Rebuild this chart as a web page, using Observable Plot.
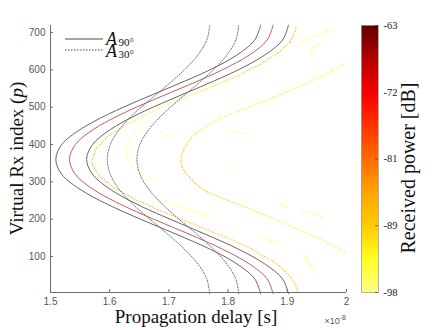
<!DOCTYPE html>
<html>
<head>
<meta charset="utf-8">
<script src="https://cdn.jsdelivr.net/npm/d3@7"></script>
<script src="https://cdn.jsdelivr.net/npm/@observablehq/plot@0.6"></script>
<style>
  body { margin: 0; background: #fff; }
  #chart { position: relative; width: 440px; height: 330px; }
  #chart svg { position: absolute; top: 0; overflow: visible; }
</style>
</head>
<body>
<div id="chart"></div>
<script>
// Axis ticks (delay in units of 1e-8 s, virtual receiver index p)
const xTicks = [1.5, 1.6, 1.7, 1.8, 1.9, 2];
const xTickLabels = ["1.5", "1.6", "1.7", "1.8", "1.9", "2"];
const yTicks = [100, 200, 300, 400, 500, 600, 700];

// Colour bar ticks (dB) and their printed labels
const cbTicks = [-98, -89.25, -80.5, -71.75, -63];
const cbTickLabels = ["-98", "-89", "-81", "-72", "-63"];

// Colormap stops (dB) and colours, light yellow (weak) to dark red (strong)
const cmapStops  = [-98, -93.8, -89, -84.6, -81, -76, -72, -67.6, -63];
const cmapColors = ["#ffff8a", "#ffff22", "#ffc800", "#ffa000", "#ff7000", "#ff3000", "#f80000", "#b80000", "#5e0000"];

// Predicted delay curves sampled along the virtual array
const pGrid = [0, 40, 80, 120, 160, 200, 240, 280, 320, 360, 400, 440, 480, 520, 560, 600, 640, 680, 720];
const a90Outer = [1.855, 1.845, 1.815, 1.769, 1.712, 1.652, 1.596, 1.550, 1.519, 1.509, 1.519, 1.550, 1.596, 1.652, 1.712, 1.769, 1.815, 1.845, 1.855];
const a90Mid   = [1.876, 1.866, 1.836, 1.790, 1.734, 1.674, 1.618, 1.572, 1.542, 1.532, 1.542, 1.572, 1.618, 1.674, 1.734, 1.790, 1.836, 1.866, 1.876];
const a90Inner = [1.902, 1.892, 1.862, 1.817, 1.761, 1.702, 1.646, 1.601, 1.571, 1.561, 1.571, 1.601, 1.646, 1.702, 1.761, 1.817, 1.862, 1.892, 1.902];
const a30Left  = [1.769, 1.764, 1.749, 1.726, 1.698, 1.668, 1.639, 1.616, 1.601, 1.596, 1.601, 1.616, 1.639, 1.668, 1.698, 1.726, 1.749, 1.764, 1.769];
const a30Right = [1.818, 1.813, 1.798, 1.775, 1.747, 1.717, 1.689, 1.666, 1.651, 1.646, 1.651, 1.666, 1.689, 1.717, 1.747, 1.775, 1.798, 1.813, 1.818];

// Measured multipath traces: [delay, p, received power dB]
const traceA = [
  [1.918, 5, -87], [1.915, 18, -87], [1.912, 30, -88], [1.906, 45, -88], [1.896, 60, -87],
  [1.886, 75, -88], [1.873, 90, -87], [1.855, 105, -88], [1.840, 120, -88], [1.819, 135, -89],
  [1.799, 150, -89], [1.775, 165, -88], [1.753, 180, -88], [1.727, 195, -87], [1.706, 210, -87],
  [1.681, 225, -86], [1.662, 240, -86], [1.640, 255, -86], [1.624, 270, -85], [1.606, 285, -85],
  [1.595, 300, -85], [1.583, 315, -86], [1.577, 330, -86], [1.571, 345, -85], [1.570, 360, -85],
  [1.574, 375, -86], [1.577, 390, -86], [1.587, 405, -87], [1.595, 420, -88], [1.610, 435, -90],
  [1.624, 450, -91], [1.643, 465, -92], [1.661, 480, -92], [1.683, 495, -93], [1.702, 510, -93],
  [1.727, 525, -92], [1.749, 540, -92], [1.774, 555, -91], [1.795, 570, -90], [1.818, 585, -89],
  [1.835, 600, -89], [1.855, 615, -88], [1.869, 630, -88], [1.885, 645, -88], [1.894, 660, -88],
  [1.905, 675, -87], [1.909, 690, -87], [1.914, 705, -87], [1.915, 718, -87]
];
const traceC = [
  [1.998, 111, -93], [1.983, 125, -93], [1.965, 140, -92], [1.940, 158, -92], [1.914, 175, -92],
  [1.886, 195, -92], [1.858, 214, -91], [1.830, 232, -91], [1.800, 250, -90], [1.782, 262, -89],
  [1.765, 273, -88], [1.752, 286, -87], [1.743, 299, -86], [1.735, 312, -86], [1.727, 326, -86],
  [1.722, 340, -86], [1.720, 355, -86], [1.721, 370, -87], [1.725, 385, -88], [1.730, 400, -89],
  [1.738, 418, -90], [1.750, 436, -91], [1.768, 454, -92], [1.790, 472, -92], [1.818, 490, -92],
  [1.848, 508, -92], [1.877, 526, -92], [1.905, 545, -92], [1.930, 562, -93], [1.955, 580, -93],
  [1.975, 597, -93], [1.998, 617, -93]
];
const traceD = [
  [1.670, 468, -97], [1.652, 448, -97], [1.640, 428, -96], [1.633, 405, -96], [1.629, 382, -96],
  [1.631, 360, -96], [1.638, 340, -96], [1.652, 322, -97], [1.672, 305, -97]
];
const traceDLower = [[1.690, 252, -95], [1.720, 232, -95], [1.753, 215, -95], [1.775, 206, -96]];
const scatterBits = [
  [[1.920, 673, -94], [1.936, 685, -94], [1.955, 697, -94], [1.976, 708, -94]],
  [[1.938, 650, -94], [1.947, 660, -94], [1.958, 671, -94]],
  [[1.940, 640, -95], [1.952, 645, -95]],
  [[1.888, 242, -94], [1.902, 231, -94]],
  [[1.926, 223, -94], [1.944, 213, -94], [1.962, 204, -94]],
  [[1.858, 151, -94], [1.872, 143, -94], [1.886, 135, -94]],
  [[1.926, 108, -94], [1.934, 90, -94], [1.941, 72, -94], [1.948, 54, -94]],
  [[1.796, 338, -95], [1.808, 330, -95]],
  [[1.800, 437, -95], [1.830, 430, -95]],
  [[1.686, 437, -95], [1.700, 420, -95]]
];

// Colormap as an interpolator over the [-98, -63] dB domain
function cmap(t) {
  const v = -98 + 35 * t;
  let i = 0;
  while (i < cmapStops.length - 2 && v > cmapStops[i + 1]) i++;
  const f = Math.max(0, Math.min(1, (v - cmapStops[i]) / (cmapStops[i + 1] - cmapStops[i])));
  return d3.interpolateRgb(cmapColors[i], cmapColors[i + 1])(f);
}
const colorScale = {type: "linear", domain: [-98, -63], interpolate: cmap};

// Consecutive points of each trace become short coloured segments
function segments(trace) {
  const out = [];
  for (let i = 1; i < trace.length; i++) {
    const [x1, y1, c1] = trace[i - 1], [x2, y2, c2] = trace[i];
    out.push({x1, y1, x2, y2, dB: (c1 + c2) / 2});
  }
  return out;
}
const measured = [traceA, traceC, traceD, traceDLower, ...scatterBits].flatMap(segments);
const model = pGrid.map((p, i) => ({p, outer: a90Outer[i], mid: a90Mid[i], inner: a90Inner[i], left: a30Left[i], right: a30Right[i]}));

const xLabelOf = new Map(xTicks.map((t, i) => [t, xTickLabels[i]]));
const yMin = 3.5, yMax = 719;
const axisColor = "#6e6e6e";

const main = Plot.plot({
  width: 350, height: 330,
  marginLeft: 50, marginRight: 4, marginTop: 25, marginBottom: 38,
  style: {fontFamily: "'Liberation Sans', Arial, sans-serif", fontSize: "10px", color: "#555", background: "transparent"},
  x: {domain: [1.5, 2], ticks: xTicks, tickFormat: d => xLabelOf.get(d), tickSize: 0, tickPadding: 5, label: null},
  y: {domain: [yMin, yMax], ticks: yTicks, tickSize: 0, tickPadding: 5, label: null},
  color: colorScale,
  marks: [
    Plot.link(measured, {x1: "x1", y1: "y1", x2: "x2", y2: "y2", stroke: "dB", strokeWidth: 1.15, strokeOpacity: 0.85, strokeDasharray: "1.2,1.2"}),
    Plot.line(model, {x: "left", y: "p", curve: "catmull-rom", stroke: "#555", strokeWidth: 0.8, strokeDasharray: "1.5,1.5"}),
    Plot.line(model, {x: "right", y: "p", curve: "catmull-rom", stroke: "#555", strokeWidth: 0.8, strokeDasharray: "1.5,1.5"}),
    Plot.line(model, {x: "outer", y: "p", curve: "catmull-rom", stroke: "#555", strokeWidth: 0.9}),
    Plot.line(model, {x: "mid", y: "p", curve: "catmull-rom", stroke: "#bb4c4c", strokeWidth: 0.9}),
    Plot.line(model, {x: "inner", y: "p", curve: "catmull-rom", stroke: "#555", strokeWidth: 0.9}),
    Plot.ruleY([yMin], {stroke: axisColor}),
    Plot.ruleX([1.5], {stroke: axisColor}),
    Plot.ruleX(xTicks, {insetTop: 264, stroke: axisColor}),
    Plot.ruleY(yTicks, {insetRight: 293, stroke: axisColor})
  ]
});
main.style.left = "0px";

const svg = d3.select(main);
const serif = "'Liberation Serif', 'Times New Roman', serif";

// Legend
const lg = svg.append("g").attr("text-anchor", "start");
lg.append("line").attr("x1", 65).attr("x2", 103).attr("y1", 39).attr("y2", 39).attr("stroke", "#333").attr("stroke-width", 0.9);
lg.append("line").attr("x1", 65).attr("x2", 103).attr("y1", 50).attr("y2", 50).attr("stroke", "#333").attr("stroke-width", 0.9).attr("stroke-dasharray", "1.5,1.5");
[["90°", 45], ["30°", 57]].forEach(([sub, y]) => {
  const t = lg.append("text").attr("x", 106).attr("y", y).attr("text-anchor", "start").attr("font-family", serif).attr("fill", "#111");
  t.append("tspan").attr("font-size", 18).attr("font-style", "italic").text("A");
  t.append("tspan").attr("font-size", 11).attr("dx", 1.5).attr("dy", 1).text(sub);
});

// Axis titles
svg.append("text").attr("x", 196).attr("y", 323).attr("text-anchor", "middle")
  .attr("font-family", serif).attr("font-size", 19).attr("fill", "#111").text("Propagation delay [s]");
const yt = svg.append("text").attr("transform", "translate(23,158.5) rotate(-90)").attr("text-anchor", "middle")
  .attr("font-family", serif).attr("font-size", 19).attr("fill", "#111");
yt.append("tspan").text("Virtual Rx index (");
yt.append("tspan").attr("font-style", "italic").text("p");
yt.append("tspan").text(")");

// Exponent of the delay axis
const ex = svg.append("text").attr("x", 346).attr("y", 324).attr("text-anchor", "end")
  .attr("font-family", "'Liberation Sans', Arial, sans-serif").attr("font-size", 9).attr("fill", "#555");
ex.append("tspan").text("×10");
ex.append("tspan").attr("dy", -4).attr("font-size", 7).text("-8");

// Colour bar
const cbStep = 0.1;
const cbSteps = d3.range(-98, -63, cbStep);
const cbar = Plot.plot({
  width: 90, height: 330,
  marginLeft: 11, marginRight: 62, marginTop: 25, marginBottom: 38,
  style: {fontFamily: serif, fontSize: "10.5px", color: "#222", background: "transparent"},
  x: {domain: [0, 1], axis: null},
  y: {domain: [-98, -63], axis: null},
  color: colorScale,
  marks: [
    Plot.rect(cbSteps, {x1: () => 0, x2: () => 1, y1: d => d, y2: d => d + cbStep * 1.6, fill: d => d + cbStep / 2, shapeRendering: "crispEdges"}),
    Plot.frame({stroke: "#a0a0a0", strokeWidth: 0.8}),
    Plot.ruleY(cbTicks, {insetLeft: 14, stroke: "#444", strokeWidth: 0.8}),
    Plot.text(cbTicks, {x: () => 1, y: d => d, text: (d, i) => cbTickLabels[i], dx: 5, textAnchor: "start", fill: "#222"})
  ]
});
cbar.style.left = "350px";
d3.select(cbar).append("text").attr("transform", "translate(65,168) rotate(-90)").attr("text-anchor", "middle")
  .attr("font-family", serif).attr("font-size", 20).attr("fill", "#111").text("Received power [dB]");

const chart = document.getElementById("chart");
chart.appendChild(main);
chart.appendChild(cbar);
</script>
</body>
</html>
